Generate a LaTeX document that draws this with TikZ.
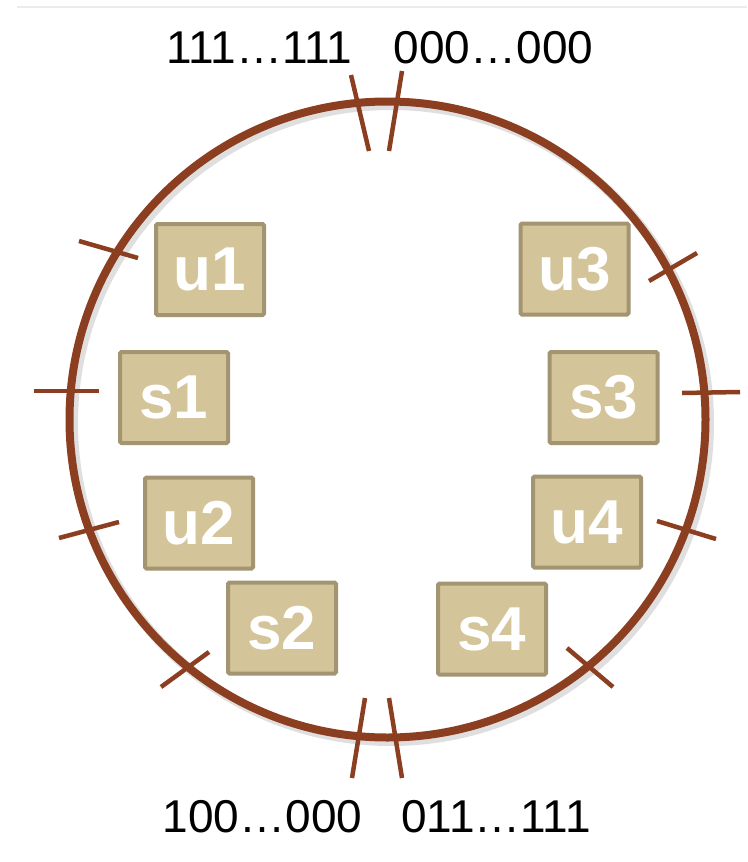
\documentclass[tikz,border=0pt]{standalone}
\usepackage{fontspec}
\setmainfont{Liberation Sans}
\definecolor{ring}{RGB}{140,62,32}
\definecolor{boxfill}{RGB}{212,196,153}
\definecolor{boxedge}{RGB}{163,149,114}
\definecolor{rule}{RGB}{235,235,235}
\tikzset{
  keybox/.style={rectangle, fill=boxfill, draw=boxedge, line width=4pt, rounded corners=1.5pt,
    minimum width=108pt, minimum height=91pt, inner sep=0pt, text=white,
    font=\bfseries\fontsize{62}{62}\selectfont},
  lbl/.style={anchor=base, inner sep=0pt, font=\fontsize{46}{46}\selectfont},
  tick/.style={draw=ring, line width=4.5pt},
}
\begin{document}
\begin{tikzpicture}[x=1pt,y=-1pt]
\useasboundingbox (0,0) rectangle (747,862);
\fill[white] (0,0) rectangle (747,862);
\draw[rule, line width=1.5pt] (17,7) -- (747,7);
% shadow and ring
\draw[black!50, opacity=0.25, line width=10pt] (391,423) circle [radius=318];
\draw[ring, line width=8pt] (387.5,419.5) coordinate (c) circle [radius=318];
% ticks
\coordinate (t1a) at (351,75);  \coordinate (t1b) at (369,151);
\coordinate (t2a) at (402,71);  \coordinate (t2b) at (389,151);
\coordinate (b1a) at (365,698); \coordinate (b1b) at (352,778);
\coordinate (b2a) at (389,698); \coordinate (b2b) at (402,778);
\coordinate (ku1a) at (79,241); \coordinate (ku1b) at (138,258);
\coordinate (ks1a) at (34,391); \coordinate (ks1b) at (99,391);
\coordinate (ku2a) at (59,538); \coordinate (ku2b) at (119,522);
\coordinate (ks2a) at (161,687); \coordinate (ks2b) at (209,652);
\coordinate (ku3a) at (649,281); \coordinate (ku3b) at (697,253);
\coordinate (ks3a) at (682,393); \coordinate (ks3b) at (740,392);
\coordinate (ku4a) at (657,521); \coordinate (ku4b) at (716,539);
\coordinate (ks4a) at (567,648); \coordinate (ks4b) at (613,687);
\foreach \p in {t1,t2,b1,b2,ku1,ks1,ku2,ks2,ku3,ks3,ku4,ks4}
  \draw[tick] (\p a) -- (\p b);
% boxes
\node[keybox] (u1) at (210,269.5) {u1};
\node[keybox] (s1) at (174,397.5) {s1};
\node[keybox] (u2) at (199,523) {u2};
\node[keybox] (s2) at (282,628) {s2};
\node[keybox] (u3) at (574.5,269) {u3};
\node[keybox] (s3) at (603.5,397.5) {s3};
\node[keybox] (u4) at (587,522) {u4};
\node[keybox] (s4) at (492,629) {s4};
% labels
\node[lbl] (l1) at (259,63) {111…111};
\node[lbl] (l2) at (493.5,63) {000…000};
\node[lbl] (l3) at (262.5,832) {100…000};
\node[lbl] (l4) at (496,832) {011…111};
\end{tikzpicture}
\end{document}
